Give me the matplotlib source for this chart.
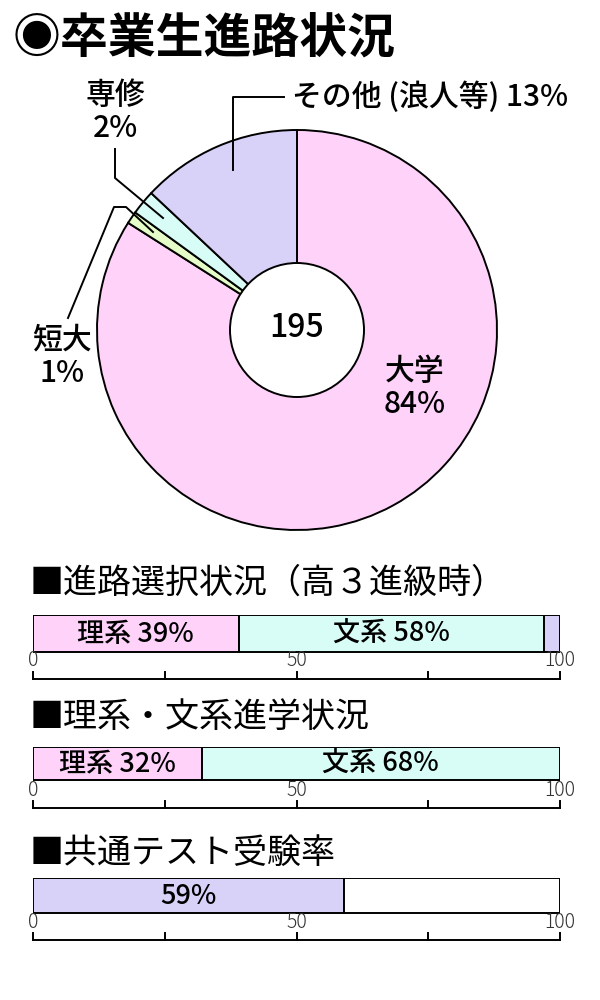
import matplotlib
matplotlib.use("Agg")
import matplotlib.pyplot as plt
from matplotlib.patches import Circle

plt.rcParams["font.family"] = ["Noto Sans CJK JP", "DejaVu Sans"]

# ---------------------------------------------------------------------------
# data
# ---------------------------------------------------------------------------
pie_labels = ["大学", "短大", "専修", "その他 (浪人等)"]
pie_values = [84, 1, 2, 13]
total_students = 195

bar_titles = ["■進路選択状況（高３進級時）", "■理系・文系進学状況", "■共通テスト受験率"]
bar_segments = [
    [("理系", 39), ("文系", 58), ("", 3)],
    [("理系", 32), ("文系", 68)],
    [("", 59), ("", 41)],
]
tick_values = [0, 25, 50, 75, 100]
tick_labels = {0: "0", 50: "50", 100: "100"}

PINK = "#FFD2FA"
CYAN = "#D8FCF6"
LAV = "#D8D2F8"
GREEN = "#E6FCC8"
WHITE = "#FFFFFF"
pie_colors = [PINK, GREEN, CYAN, LAV]
bar_colors = [[PINK, CYAN, LAV], [PINK, CYAN], [LAV, WHITE]]

W, H = 600, 1000
fig = plt.figure(figsize=(6, 10), dpi=100)


def px(x, y):
    """pixel (from top-left) -> figure fraction"""
    return x / W, 1 - y / H


# title
fig.text(*px(13, 38), "◉卒業生進路状況", fontsize=34.5, fontweight="bold",
         va="center", ha="left")

# ---------------------------------------------------------------------------
# pie
# ---------------------------------------------------------------------------
cx, cy, R = 297, 330, 200
ax = fig.add_axes([(cx - R) / W, 1 - (cy + R) / H, 2 * R / W, 2 * R / H])
ax.pie(pie_values, colors=pie_colors, startangle=90, counterclock=False,
       radius=1, wedgeprops=dict(edgecolor="black", linewidth=1.4))
ax.set_xlim(-1, 1)
ax.set_ylim(-1, 1)
ax.set_aspect("equal")
ax.axis("off")
ax.add_patch(Circle((0, 0), 67 / R, facecolor="white", edgecolor="black",
                    linewidth=1.4, zorder=5))


def d(x, y):
    return (x - cx) / R, (cy - y) / R


lab = dict(fontsize=21.5, fontweight="medium", clip_on=False)
ax.text(*d(297, 328), str(total_students), ha="center", va="center",
        zorder=6, **dict(lab, fontsize=23))
ax.text(*d(415, 388), f"{pie_labels[0]}\n{pie_values[0]}%", ha="center",
        va="center", linespacing=1.1, **lab)
ax.text(*d(292, 97), f"{pie_labels[3]} {pie_values[3]}%", ha="left",
        va="center", **lab)
ax.text(*d(115, 112), f"{pie_labels[2]}\n{pie_values[2]}%", ha="center",
        va="center", linespacing=1.1, **lab)
ax.text(*d(62, 357), f"{pie_labels[1]}\n{pie_values[1]}%", ha="center",
        va="center", linespacing=1.1, **lab)

leaders = [
    [(284, 97), (233, 97), (233, 170)],
    [(115, 149), (115, 178), (163, 218)],
    [(68, 318), (114, 207), (126, 207), (153, 232)],
]
for pts in leaders:
    xs, ys = zip(*[d(*p) for p in pts])
    ax.plot(xs, ys, color="black", lw=1.4, clip_on=False, zorder=7)

# ---------------------------------------------------------------------------
# stacked bars
# ---------------------------------------------------------------------------
x0, x1 = 33, 560
layout = [  # heading y, bar top, bar bottom, axis line
    (583, 615, 652, 679),
    (717, 747, 780, 808),
    (853, 878, 913, 940),
]
for title, segs, cols, (ty, btop, bbot, axy) in zip(bar_titles, bar_segments,
                                                    bar_colors, layout):
    fig.text(*px(x0 - 3, ty), title, fontsize=24.5, ha="left", va="center")
    bax = fig.add_axes([x0 / W, 1 - axy / H, (x1 - x0) / W, (axy - btop) / H])
    bax.set_xlim(0, 100)
    bax.set_ylim(axy, btop)
    bax.axis("off")
    left = 0
    for (name, val), col in zip(segs, cols):
        bax.barh((btop + bbot) / 2, val, left=left, height=bbot - btop,
                 color=col, edgecolor="black", linewidth=1.4)
        if name:
            label = f"{name} {val}%"
        elif col == LAV and val > 10:
            label = f"{val}%"
        else:
            label = ""
        if label:
            bax.text(left + val / 2, (btop + bbot) / 2 + 1, label,
                     fontsize=19.5, fontweight="medium", ha="center",
                     va="center")
        left += val
    # axis with upward ticks
    bax.plot([0, 100], [axy, axy], color="black", lw=1.4, clip_on=False)
    for t in tick_values:
        bax.plot([t, t], [axy, axy - 7], color="black", lw=1.4, clip_on=False)
        if t in tick_labels:
            bax.text(t, axy - 18, tick_labels[t], fontsize=14, ha="center",
                     va="center", color="#333333", fontweight="light",
                     clip_on=False)

fig.savefig("out.png", dpi=100)
